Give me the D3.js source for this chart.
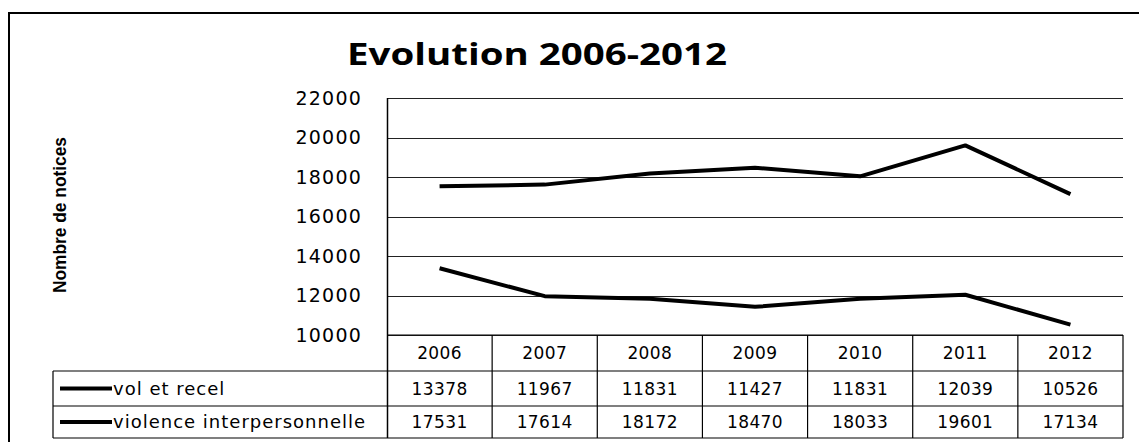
<!DOCTYPE html>
<html>
<head>
<meta charset="utf-8">
<script src="https://cdn.jsdelivr.net/npm/d3@7"></script>
<style>
  body { margin: 0; background: #fff; }
  svg { display: block; }
  .tick-label, .cell, .legend-label { font-family: "DejaVu Sans", sans-serif; font-size: 17px; fill: #000; }
</style>
</head>
<body>
<svg id="chart"></svg>
<script>
//DATA//
var years = ["2006", "2007", "2008", "2009", "2010", "2011", "2012"];
var volEtRecel = [13378, 11967, 11831, 11427, 11831, 12039, 10526];
var violence = [17531, 17614, 18172, 18470, 18033, 19601, 17134];
var seriesNames = ["vol et recel", "violence interpersonnelle"];
var yTicks = [10000, 12000, 14000, 16000, 18000, 20000, 22000];

var screen = { width: 1139, height: 442 };
var margins = { top: 98, left: 387, right: 16, bottom: 107 };
var graph = {
  width: screen.width - margins.left - margins.right,
  height: screen.height - margins.top - margins.bottom
};

var svg = d3.select("#chart").attr("width", screen.width).attr("height", screen.height);

//outer frame
svg.append("line").attr("x1", 8).attr("x2", screen.width).attr("y1", 13).attr("y2", 13)
  .attr("stroke", "#000").attr("stroke-width", 2);
svg.append("line").attr("x1", 9).attr("x2", 9).attr("y1", 13).attr("y2", screen.height)
  .attr("stroke", "#000").attr("stroke-width", 2);

//SCALES//
var xScale = d3.scaleBand().domain(years).range([margins.left, margins.left + graph.width]);
var yScale = d3.scaleLinear().domain([10000, 22000]).range([margins.top + graph.height, margins.top]);

//gridlines
svg.append("g").selectAll("line").data(yTicks).enter().append("line")
  .attr("x1", margins.left).attr("x2", margins.left + graph.width)
  .attr("y1", function (d) { return Math.round(yScale(d)) + 0.5; })
  .attr("y2", function (d) { return Math.round(yScale(d)) + 0.5; })
  .attr("stroke", "#222").attr("stroke-width", 1);

//y axis line
var tableRows = { header: 36, row: 35, row2: 32 };
var tableTop = yScale(10000);
var tableBottom = tableTop + tableRows.header + tableRows.row + tableRows.row2;
svg.append("line").attr("x1", margins.left + 0.5).attr("x2", margins.left + 0.5)
  .attr("y1", margins.top).attr("y2", tableBottom).attr("stroke", "#000").attr("stroke-width", 1.5);

//tick labels
svg.append("g").selectAll("text").data(yTicks).enter().append("text")
  .classed("tick-label", true)
  .attr("x", margins.left - 25).attr("y", function (d) { return yScale(d); })
  .attr("dy", "0.36em").attr("text-anchor", "end").style("font-size", "19px")
  .style("letter-spacing", "1.2px")
  .text(function (d) { return d; });

//LINES//
var line = d3.line()
  .x(function (d, i) { return xScale(years[i]) + xScale.bandwidth() / 2; })
  .y(function (d) { return yScale(d); });
[volEtRecel, violence].forEach(function (series) {
  svg.append("path").datum(series).attr("d", line)
    .attr("fill", "none").attr("stroke", "#000").attr("stroke-width", 4)
    .attr("stroke-linejoin", "round");
});

//TITLE & LABEL//
svg.append("text").text("Evolution 2006-2012")
  .attr("x", 537).attr("y", 65).attr("text-anchor", "middle")
  .attr("font-family", "'Open Sans', sans-serif").attr("font-weight", "bold")
  .attr("font-size", 31).attr("textLength", 380).attr("lengthAdjust", "spacingAndGlyphs");

svg.append("g").attr("transform", "translate(66,215)")
  .append("text").text("Nombre de notices")
  .attr("transform", "rotate(-90)").attr("text-anchor", "middle")
  .attr("font-family", "'Liberation Sans', sans-serif").attr("font-weight", "bold")
  .attr("font-size", 19).attr("textLength", 156).attr("lengthAdjust", "spacingAndGlyphs");

//TABLE//
var legendLeft = 53;
var rowY = [tableTop, tableTop + tableRows.header, tableTop + tableRows.header + tableRows.row, tableBottom];
var tbl = svg.append("g").attr("stroke", "#000").attr("stroke-width", 1.2);

//horizontal rules
tbl.append("line").attr("x1", margins.left).attr("x2", margins.left + graph.width)
  .attr("y1", rowY[0]).attr("y2", rowY[0]);
[rowY[1], rowY[2], rowY[3]].forEach(function (y) {
  tbl.append("line").attr("x1", legendLeft).attr("x2", margins.left + graph.width)
    .attr("y1", y).attr("y2", y);
});
//vertical rules
years.slice(1).concat(["end"]).forEach(function (yr) {
  var x = yr === "end" ? margins.left + graph.width : xScale(yr);
  tbl.append("line").attr("x1", x).attr("x2", x).attr("y1", rowY[0]).attr("y2", rowY[3]);
});
tbl.append("line").attr("x1", legendLeft).attr("x2", legendLeft).attr("y1", rowY[1]).attr("y2", rowY[3]);

//header years
svg.append("g").selectAll("text").data(years).enter().append("text")
  .classed("cell", true)
  .attr("x", function (d) { return xScale(d) + xScale.bandwidth() / 2; })
  .attr("y", (rowY[0] + rowY[1]) / 2).attr("dy", "0.36em").attr("text-anchor", "middle")
  .style("letter-spacing", "0.4px")
  .text(function (d) { return d; });

//data rows
[volEtRecel, violence].forEach(function (series, r) {
  var yMid = (rowY[r + 1] + rowY[r + 2]) / 2;
  svg.append("g").selectAll("text").data(series).enter().append("text")
    .classed("cell", true)
    .attr("x", function (d, i) { return xScale(years[i]) + xScale.bandwidth() / 2; })
    .attr("y", yMid).attr("dy", "0.36em").attr("text-anchor", "middle")
    .style("letter-spacing", "0.4px")
    .text(function (d) { return d; });
  svg.append("line").attr("x1", 60).attr("x2", 112).attr("y1", yMid).attr("y2", yMid)
    .attr("stroke", "#000").attr("stroke-width", 4);
  svg.append("text").classed("legend-label", true)
    .attr("x", 113).attr("y", yMid).attr("dy", "0.36em")
    .style("font-size", "18px").style("letter-spacing", "1px")
    .text(seriesNames[r]);
});
</script>
</body>
</html>
